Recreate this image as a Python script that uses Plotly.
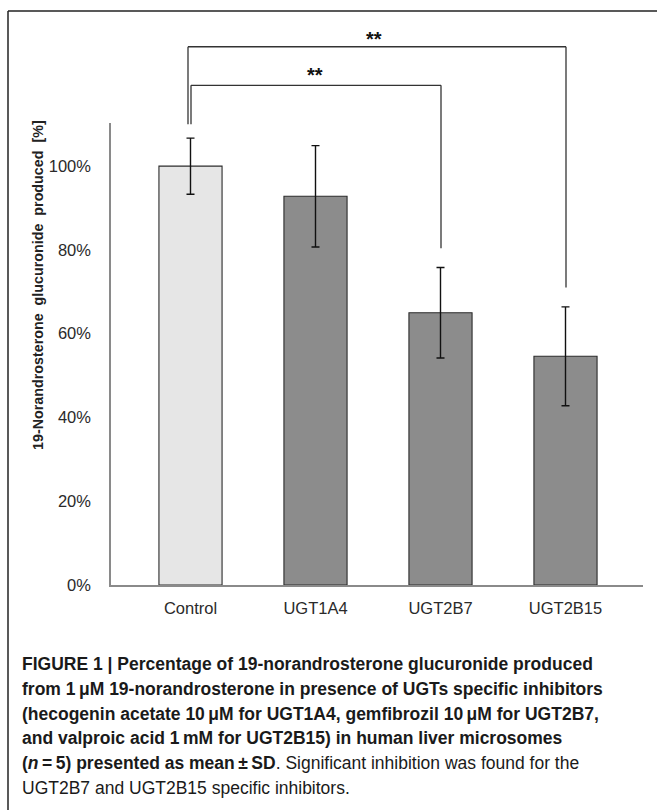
import plotly.graph_objects as go

categories = ["Control", "UGT1A4", "UGT2B7", "UGT2B15"]
means = [100.0, 92.8, 65.0, 54.6]
sds = [6.7, 12.1, 10.8, 11.8]
bar_colors = ["#e6e6e6", "#8c8c8c", "#8c8c8c", "#8c8c8c"]
y_ticks = [0, 20, 40, 60, 80, 100]
y_tick_labels = ["0%", "20%", "40%", "60%", "80%", "100%"]
y_title = "19-Norandrosterone\u00a0 glucuronide\u00a0 produced\u00a0 [%]"
caption_lines = [
    "<b>FIGURE 1 | Percentage of 19-norandrosterone glucuronide produced</b>",
    "<b>from 1\u2009\u03bcM 19-norandrosterone in presence of UGTs specific inhibitors</b>",
    "<b>(hecogenin acetate 10\u2009\u03bcM for UGT1A4, gemfibrozil 10\u2009\u03bcM for UGT2B7,</b>",
    "<b>and valproic acid 1\u2009mM for UGT2B15) in human liver microsomes</b>",
    "<b>(<i>n</i>\u2009=\u20095) presented as mean\u2009\u00b1\u2009SD</b>. Significant inhibition was found for the",
    "UGT2B7 and UGT2B15 specific inhibitors.",
]

W, H = 657, 810
L, R, T, B = 111, 14, 123, 225
pw, ph = W - L - R, H - T - B
XR = [-0.636, 3.62]
YR = [0, 110.3]


def px(x):
    return (x - L) / pw


def py(y):
    return (H - B - y) / ph


def dx(v):  # data x -> paper
    return (v - XR[0]) / (XR[1] - XR[0])


def dy(v):  # data y -> paper
    return (v - YR[0]) / (YR[1] - YR[0])


fig = go.Figure()
fig.add_trace(go.Bar(
    x=list(range(len(categories))), y=means, width=0.505,
    marker=dict(color=bar_colors, line=dict(color="#2b2b2b", width=1.1)),
    error_y=dict(type="data", array=sds, visible=True, color="#111111",
                 thickness=1.4, width=4),
    showlegend=False,
))

fig.update_layout(
    width=W, height=H,
    margin=dict(l=L, r=R, t=T, b=B),
    paper_bgcolor="white", plot_bgcolor="white",
    font=dict(family="Liberation Sans, Arial, sans-serif", color="#222"),
    xaxis=dict(range=XR, tickmode="array",
               tickvals=list(range(len(categories))), ticktext=categories,
               showline=True, linecolor="#8a8a8a", linewidth=1.5,
               ticks="", showgrid=False, zeroline=False,
               tickfont=dict(size=16.5, color="#2a2a2a"), ticklabelstandoff=7),
    yaxis=dict(range=YR, tickmode="array", tickvals=y_ticks,
               ticktext=y_tick_labels, showline=True, linecolor="#8a8a8a",
               linewidth=1.5, ticks="", showgrid=False, zeroline=False,
               tickfont=dict(size=16.5, color="#2a2a2a"), ticklabelstandoff=15),
)

# y-axis title
fig.add_annotation(xref="paper", yref="paper", x=px(38), y=py(285),
                   xanchor="center", yanchor="middle",
                   text="<b>" + y_title + "</b>", textangle=-90,
                   showarrow=False, font=dict(size=14.3, color="#222"))

# significance brackets (positions relative to category centres, in data units)
line = dict(color="#333", width=1.3)
ctrl, c2b7, c2b15 = 0, 2, 3
o_left, o_right, o_top, o_bot = ctrl - 0.02, c2b15 + 0.004, 128.5, 71.0
i_left, i_right, i_top, i_bot = ctrl + 0.004, c2b7 + 0.004, 119.3, 80.4
left_bot = 110.0
segs = [
    (o_left, o_right, o_top, o_top), (o_left, o_left, o_top, left_bot),
    (o_right, o_right, o_top, o_bot), (i_left, i_right, i_top, i_top),
    (i_left, i_left, i_top, left_bot), (i_right, i_right, i_top, i_bot),
]
for x0, x1, y0, y1 in segs:
    fig.add_shape(type="line", xref="paper", yref="paper",
                  x0=dx(x0), x1=dx(x1), y0=dy(y0), y1=dy(y1), line=line)
fig.add_annotation(xref="paper", yref="paper", x=dx(1.468), y=dy(130.3),
                   text="<b>**</b>", showarrow=False, yanchor="middle",
                   font=dict(size=20, color="#111"))
fig.add_annotation(xref="paper", yref="paper", x=dx(0.996), y=dy(121.8),
                   text="<b>**</b>", showarrow=False, yanchor="middle",
                   font=dict(size=20, color="#111"))

# outer frame
frame = dict(color="#222", width=1.5)
fig.add_shape(type="line", xref="paper", yref="paper", x0=px(8), x1=px(W + 5),
              y0=py(11), y1=py(11), line=frame)
fig.add_shape(type="line", xref="paper", yref="paper", x0=px(8), x1=px(8),
              y0=py(11), y1=py(H + 5), line=frame)

# caption
for k, t in enumerate(caption_lines):
    fig.add_annotation(xref="paper", yref="paper", x=px(20), y=py(664 + 24.8 * k),
                       xanchor="left", yanchor="middle", text=t, showarrow=False,
                       font=dict(family="Liberation Sans Narrow, Arial Narrow, sans-serif",
                                 size=17.5, color="#1a1a1a"))

fig.write_html("out.html")
